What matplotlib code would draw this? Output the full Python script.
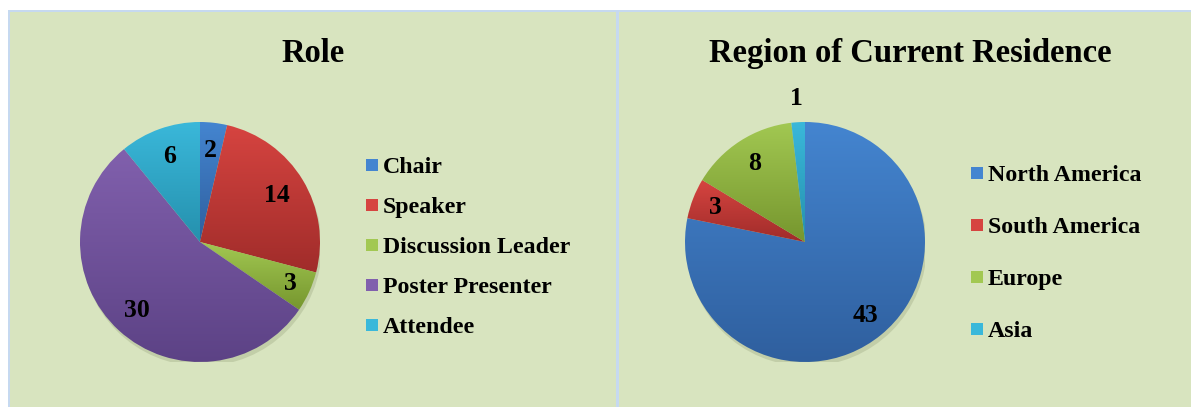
import numpy as np
import matplotlib
matplotlib.use("Agg")
import matplotlib.pyplot as plt
from matplotlib.patches import Rectangle
from matplotlib.colors import to_rgb

# ---- data ----
role_labels = ["Chair", "Speaker", "Discussion Leader", "Poster Presenter", "Attendee"]
role_values = [2, 14, 3, 30, 6]
region_labels = ["North America", "South America", "Europe", "Asia"]
region_values = [43, 3, 8, 1]

# ---- style ----
W, H = 1191, 407
FONT = "Liberation Serif"
BG = "#d8e4bf"
BORDER = "#c6d9f0"
role_colors = [("#4485d0", "#2f5f9e"), ("#d64440", "#a02c2a"), ("#a2c852", "#76962e"),
               ("#8160ad", "#5c4285"), ("#3ab8da", "#2590ad")]
region_colors = [("#4485d0", "#2f5f9e"), ("#d64440", "#a02c2a"), ("#a2c852", "#76962e"),
                 ("#3ab8da", "#2590ad")]
role_label_r = [0.77, 0.75, 0.83, 0.78, 0.76]
region_label_r = [0.79, 0.80, 0.78, 1.20]

fig = plt.figure(figsize=(W / 100, H / 100), dpi=100)
fig.patch.set_facecolor("white")


def px_rect(x0, y0, x1, y1, color, z=0):
    fig.add_artist(Rectangle((x0 / W, 1 - y1 / H), (x1 - x0) / W, (y1 - y0) / H,
                             transform=fig.transFigure, facecolor=color,
                             edgecolor="none", zorder=z))


px_rect(8, 10, W, H, BORDER, 0)
px_rect(10, 12, 616, H, BG, 1)
px_rect(619, 12, W, H, BG, 1)


def gradient_pie(cx, cy, r, values, colors, label_r):
    ax = fig.add_axes([(cx - r) / W, 1 - (cy + r) / H, 2 * r / W, 2 * r / H])
    ax.set_xlim(-1, 1)
    ax.set_ylim(-1, 1)
    ax.set_aspect("equal")
    ax.axis("off")
    ax.set_zorder(2)
    # subtle shadow
    sh = plt.Circle((0.015, -0.035), 1.0, color="#9aa57f", alpha=0.35, zorder=0, lw=0)
    ax.add_patch(sh)
    wedges, _ = ax.pie(values, startangle=90, counterclock=False, radius=1,
                       wedgeprops=dict(linewidth=0))
    total = float(sum(values))
    ang = 90.0
    for w, v, (c1, c2), lr in zip(wedges, values, colors, label_r):
        w.set_facecolor("none")
        verts = w.get_path().vertices
        tr = w.get_patch_transform()
        pts = tr.transform(verts)
        y0, y1 = pts[:, 1].min(), pts[:, 1].max()
        x0, x1 = pts[:, 0].min(), pts[:, 0].max()
        a = np.array(to_rgb(c1))
        b = np.array(to_rgb(c2))
        t = np.linspace(0, 1, 256)[:, None]
        grad = (a * (1 - t) + b * t)[:, None, :]
        im = ax.imshow(grad, extent=(x0, x1, y0, y1), origin="upper",
                       aspect="auto", zorder=1, interpolation="bilinear")
        im.set_clip_path(w)
        sweep = v / total * 360
        mid = np.deg2rad(ang - sweep / 2)
        ang -= sweep
        ax.text(lr * np.cos(mid), lr * np.sin(mid), str(v), ha="center", va="center",
                fontsize=18.5, fontweight="bold", family=FONT, zorder=5, clip_on=False)
    ax.set_xlim(-1, 1)
    ax.set_ylim(-1, 1)
    return ax


gradient_pie(200, 242, 120, role_values, role_colors, role_label_r)
gradient_pie(805, 242, 120, region_values, region_colors, region_label_r)


def legend(x_marker, y_first, dy, labels, colors):
    for i, (lab, (c1, c2)) in enumerate(zip(labels, colors)):
        y = y_first + i * dy
        fig.add_artist(Rectangle((x_marker / W, 1 - (y + 6) / H), 12 / W, 12 / H,
                                 transform=fig.transFigure, facecolor=c1,
                                 edgecolor="none", zorder=3))
        fig.text((x_marker + 17) / W, 1 - y / H, lab, ha="left", va="center_baseline",
                 fontsize=17.2, fontweight="bold", family=FONT, zorder=4)


legend(366, 165, 40, role_labels, role_colors)
legend(971, 173, 52, region_labels, region_colors)

fig.text(313 / W, 1 - 62 / H, "Role", ha="center", va="baseline", fontsize=23.5,
         fontweight="bold", family=FONT, zorder=4)
fig.text(910 / W, 1 - 62 / H, "Region of Current Residence", ha="center", va="baseline",
         fontsize=23.5, fontweight="bold", family=FONT, zorder=4)

fig.savefig("out.png", dpi=100, facecolor=fig.get_facecolor())
